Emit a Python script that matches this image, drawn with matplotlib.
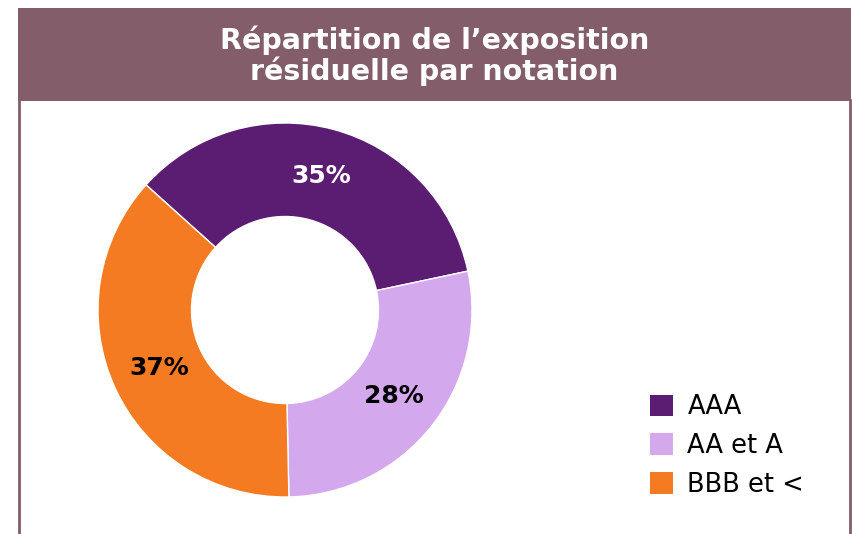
import matplotlib
matplotlib.use('Agg')
import matplotlib.pyplot as plt
from matplotlib.patches import Rectangle

# data
labels = ['AAA', 'AA et A', 'BBB et <']
shares = [35, 28, 37]
colors = ['#5a1d71', '#d4a8ed', '#f47b21']
pct_colors = ['white', 'black', 'black']
title = 'Répartition de l\u2019exposition\nrésiduelle par notation'

W, H = 853, 534
fig = plt.figure(figsize=(W / 100, H / 100), dpi=100)

# background frame in pixel coords (y from top)
bg = fig.add_axes([0, 0, 1, 1])
bg.set_xlim(0, W)
bg.set_ylim(H, 0)
bg.axis('off')
mauve = '#845d6a'
bg.add_patch(Rectangle((18, 8), 833, 93, color=mauve, lw=0))
bg.plot([19.5, 19.5], [100, H], color=mauve, lw=2)
bg.plot([850, 850], [100, H], color=mauve, lw=2)
bg.text(434.5, 56, title, ha='center', va='center', color='white',
        fontsize=20.5, fontweight='bold', linespacing=1.05)

# donut
cx, cy, r = 285, 310, 187
ax = fig.add_axes([(cx - r) / W, (H - cy - r) / H, 2 * r / W, 2 * r / H])
wedges, texts, autotexts = ax.pie(
    shares, colors=colors, startangle=138, counterclock=False,
    autopct=lambda p: '%d%%' % round(p), pctdistance=0.74,
    wedgeprops=dict(width=0.5, edgecolor='white', linewidth=1),
    textprops=dict(fontsize=18, fontweight='bold'))
for t, c in zip(autotexts, pct_colors):
    t.set_color(c)
ax.set_xlim(-1, 1)
ax.set_ylim(-1, 1)
ax.set_aspect('equal')

leg = fig.legend(wedges, labels, loc='upper left',
                 bbox_to_anchor=(627 / W, 1 - 371 / H),
                 frameon=False, fontsize=18.5,
                 handlelength=0.9, handleheight=0.9,
                 handletextpad=0.55, labelspacing=0.5)
for h in leg.legend_handles:
    h.set_edgecolor('none')

fig.savefig('out.png', dpi=100)
